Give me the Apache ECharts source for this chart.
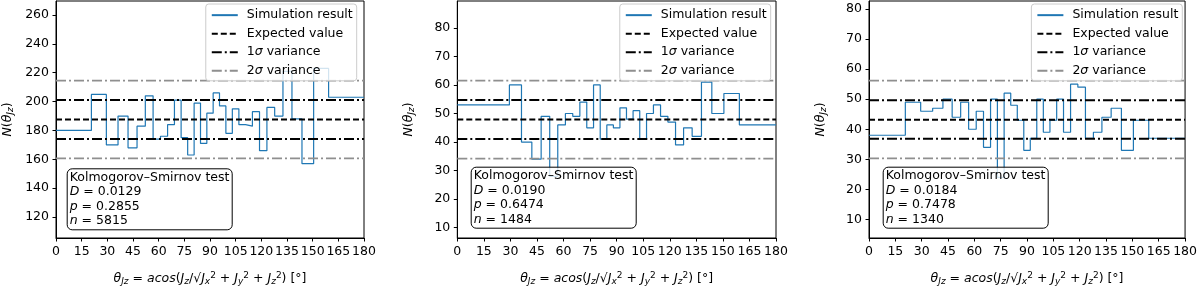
<!DOCTYPE html>
<html><head><meta charset="utf-8">
<script src="https://cdn.jsdelivr.net/npm/echarts@6/dist/echarts.min.js"></script>
<style>html,body{margin:0;padding:0;background:#fff}#c{width:1200px;height:291px}</style>
</head><body><div id="c"></div>
<script>
// bin edges (degrees) of the 31 histogram bins
const binEdges = [0, 20.69, 29.43, 36.25, 42.10, 47.36, 52.20, 56.74, 61.06, 65.21, 69.22, 73.12, 76.95, 80.72, 84.45, 88.15, 91.85, 95.55, 99.28, 103.05, 106.88, 110.78, 114.79, 118.94, 123.26, 127.80, 132.64, 137.90, 143.75, 150.57, 159.31, 180];
const countsA = [180,205,170,190,168,183,204,174,176,184,201,175,163,199,171,192,206,197,178,195,184,183,193,166,196,190,221,188,157,223,203];
const countsB = [53,53,60,40,34,49,28,46,50,49,54,45,60,41,46,45,52,48,51,41,50,53,49,47,39,45,42,61,50,57,46];
const countsC = [38,49,46,47,50,44,49,40,46,34,50,24,52,48,43,33,37,50,39,43,50,39,55,54,37,39,44,47,33,43,37];
const expectedVals = [187.6, 47.9, 43.2];
const sigma1Upper = [201.1, 54.7, 49.7];
const sigma1Lower = [174.1, 41.1, 36.8];
const sigma2Upper = [214.5, 61.5, 56.2];
const sigma2Lower = [160.7, 34.2, 30.3];
const yMin = [105.5, 6.4, 3.8];
const yMax = [269.7, 89.4, 82.7];
const yTicks = [[120,140,160,180,200,220,240,260],[10,20,30,40,50,60,70,80],[10,20,30,40,50,60,70,80]];
const xTickStep = 15;
const ksD = ['0.0129','0.0190','0.0184'];
const ksP = ['0.2855','0.6474','0.7478'];
const ksN = ['5815','1484','1340'];
const legendNames = ['Simulation result','Expected value','1σ variance','2σ variance'];

const counts = [countsA, countsB, countsC];
const gridLeft = [53.3, 457.3, 869];
const gridWidth = [310.7, 318.7, 319.3];
const legendRight = [843.3, 429.3, 17.7];
const boxLeft = [66.7, 470.7, 882.7];
const boxTop = [168.3, 166.7, 166.7];

const FONT = 'DejaVu Sans';
const FS = 12.5;
const rich = {
  it: {fontStyle:'italic', fontSize:FS, color:'#000', fontFamily:FONT},
  sub: {fontStyle:'italic', fontSize:9, color:'#000', fontFamily:FONT, padding:[6,0,0,0]},
  sup: {fontSize:9, color:'#000', fontFamily:FONT, padding:[0,0,6,0]}
};
const xName = '{it|θ}{sub|Jz} = {it|acos}({it|J}{sub|z}/√{it|J}{sub|x}{sup|2} + {it|J}{sub|y}{sup|2} + {it|J}{sub|z}{sup|2}) [°]';
const yName = '{it|N}({it|θ}{sub|Jz})';

const grids = [], xAxes = [], yAxes = [], series = [], legends = [], titles = [];
for (let p = 0; p < 3; p++) {
  grids.push({left: gridLeft[p], top: 1, width: gridWidth[p], height: 241.7, show: true, borderColor: '#000', borderWidth: 1, backgroundColor: 'transparent'});
  xAxes.push({
    type: 'value', gridIndex: p, min: 0, max: 180, interval: xTickStep,
    axisLine: {lineStyle: {color: '#000', width: 1}},
    axisTick: {inside: false, length: 3.5, lineStyle: {color: '#000'}},
    axisLabel: {color: '#000', fontSize: FS, fontFamily: FONT, margin: 7},
    splitLine: {show: false},
    name: xName, nameLocation: 'middle', nameGap: 33,
    nameTextStyle: {color: '#000', fontSize: FS, fontFamily: FONT, rich: rich}
  });
  yAxes.push({
    type: 'value', gridIndex: p, min: yMin[p], max: yMax[p],
    axisLine: {show: true, lineStyle: {color: '#000', width: 1}},
    axisTick: {show: true, inside: false, length: 3.5, lineStyle: {color: '#000'}, customValues: yTicks[p]},
    axisLabel: {color: '#000', fontSize: FS, fontFamily: FONT, margin: 7, customValues: yTicks[p]},
    splitLine: {show: false},
    name: yName, nameLocation: 'middle', nameGap: 41,
    nameTextStyle: {color: '#000', fontSize: FS, fontFamily: FONT, rich: rich}
  });
  const c = counts[p];
  const stepData = c.map((v, i) => [binEdges[i], v]).concat([[binEdges[31], c[c.length - 1]]]);
  series.push({name: 'Simulation result', type: 'line', step: 'end', xAxisIndex: p, yAxisIndex: p,
    data: stepData, symbol: 'none', lineStyle: {color: '#1f77b4', width: 1.2}, itemStyle: {color: '#1f77b4'}, z: 2});
  const hline = (name, v, color, width, dash) => ({
    name, type: 'line', xAxisIndex: p, yAxisIndex: p, data: [[0, v], [180, v]], symbol: 'none',
    lineStyle: {color, width, type: dash}, itemStyle: {color}, z: 3, silent: true
  });
  series.push(hline('Expected value', expectedVals[p], '#000', 2, [6, 3]));
  series.push(hline('1σ variance', sigma1Upper[p], '#000', 2, [10, 3, 2, 3]));
  series.push(hline('1σ variance', sigma1Lower[p], '#000', 2, [10, 3, 2, 3]));
  series.push(hline('2σ variance', sigma2Upper[p], '#8f8f8f', 1.6, [10, 3, 2, 3]));
  series.push(hline('2σ variance', sigma2Lower[p], '#8f8f8f', 1.6, [10, 3, 2, 3]));
  legends.push({
    data: legendNames, orient: 'vertical', right: legendRight[p], top: 4,
    padding: [4, 4, 3, 5], itemWidth: 26, itemHeight: 10, itemGap: 4.2,
    backgroundColor: 'rgba(255,255,255,0.8)', borderColor: '#cccccc', borderWidth: 1, borderRadius: 3,
    selectedMode: false,
    itemStyle: {opacity: 0},
    formatter: n => n.replace('σ', '{i|σ}'),
    textStyle: {color: '#000', fontSize: FS, fontFamily: FONT, lineHeight: 14.3, padding: [0, 0, 0, 4],
      rich: {i: {fontStyle: 'italic', fontSize: FS, fontFamily: FONT, color: '#000'}}}
  });
  titles.push({
    left: boxLeft[p], top: boxTop[p],
    text: 'Kolmogorov–Smirnov test\n{i|D} = ' + ksD[p] + '\n{i|p} = ' + ksP[p] + '\n{i|n} = ' + ksN[p],
    textStyle: {color: '#000', fontSize: FS, fontWeight: 'normal', fontFamily: FONT, lineHeight: 14.5,
      rich: {i: {fontStyle: 'italic', fontSize: FS, fontFamily: FONT, color: '#000', lineHeight: 14.5}}},
    backgroundColor: 'rgba(255,255,255,0.8)', borderColor: '#000', borderWidth: 1, borderRadius: 5,
    padding: [2, 3, 2, 3]
  });
}

const chart = echarts.init(document.getElementById('c'), null, {renderer: 'canvas'});
chart.setOption({
  animation: false,
  backgroundColor: '#fff',
  textStyle: {fontFamily: FONT},
  grid: grids, xAxis: xAxes, yAxis: yAxes, series, legend: legends, title: titles
});
</script></body></html>
